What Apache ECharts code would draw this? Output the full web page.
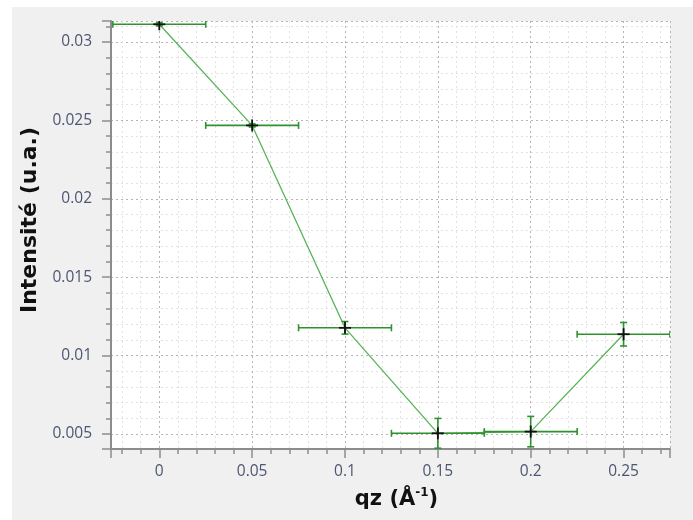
<!DOCTYPE html>
<html><head><meta charset="utf-8">
<script src="https://cdn.jsdelivr.net/npm/echarts@6/dist/echarts.min.js"></script>
<style>
html,body{margin:0;padding:0;background:#fff;}
#bg{position:absolute;left:12px;top:7px;width:681px;height:513px;background:#f0f0f0;}
#chart{position:absolute;left:0;top:0;width:693px;height:520px;}
</style>
</head><body><div id="bg"></div><div id="chart"></div>
<script>
const qz = [0, 0.05, 0.1, 0.15, 0.2, 0.25];
const intensity = [0.03113, 0.02468, 0.01177, 0.00504, 0.00515, 0.01136];
const qzErr = [0.025, 0.025, 0.025, 0.025, 0.025, 0.025];
const intensityErr = [0.0001, 0.0001, 0.0004, 0.00095, 0.00097, 0.00075];

const xMin = -0.026, xMax = 0.275;
const yMin = 0.00404, yMax = 0.03134;

const lineData = qz.map((x, i) => [x, intensity[i]]);
const errData = qz.map((x, i) => [x, intensity[i], qzErr[i], intensityErr[i]]);

const labelColor = '#4d5672';
const axisColor = '#8c8c8c';
const titleFont = 'DejaVu Sans';

function fmt(v) {
  if (Math.abs(v / 0.005 - Math.round(v / 0.005)) > 1e-6) return '';
  return String(parseFloat(v.toFixed(4)));
}
function fmtX(v) {
  if (Math.abs(v / 0.05 - Math.round(v / 0.05)) > 1e-6) return '';
  return String(parseFloat(v.toFixed(3)));
}

const chart = echarts.init(document.getElementById('chart'), null, {renderer: 'canvas'});
chart.setOption({
  backgroundColor: 'transparent',
  animation: false,
  grid: {left: 111, top: 21, right: 23, bottom: 71, show: true, backgroundColor: '#ffffff', borderWidth: 0},
  xAxis: {
    type: 'value', min: xMin, max: xMax,
    name: '{a|qz (Å}{s|-1}{a|)}',
    nameLocation: 'middle', nameGap: 38,
    nameTextStyle: {
      padding: [0, 0, 0, 12],
      rich: {
        a: {fontFamily: titleFont, fontWeight: 'bold', fontSize: 21, color: '#111', lineHeight: 26},
        s: {fontFamily: titleFont, fontWeight: 'bold', fontSize: 12, color: '#111', verticalAlign: 'top', lineHeight: 14}
      }
    },
    axisLine: {show: true, onZero: false, lineStyle: {color: axisColor, width: 2}},
    axisTick: {show: true, inside: false, length: 9, lineStyle: {color: axisColor, width: 1.5}},
    minorTick: {show: true, splitNumber: 5, length: 5, lineStyle: {color: axisColor, width: 1.5}},
    axisLabel: {fontFamily: 'Open Sans', fontSize: 15.5, color: labelColor, margin: 15, showMinLabel: false, showMaxLabel: false, formatter: fmtX},
    splitLine: {show: true, lineStyle: {color: '#b4b4b4', type: [2, 3], width: 1}},
    minorSplitLine: {show: true, lineStyle: {color: '#e2e2e2', type: [2, 3], width: 1}}
  },
  yAxis: {
    type: 'value', min: yMin, max: yMax,
    name: 'Intensité (u.a.)',
    nameLocation: 'middle', nameGap: 50,
    nameTextStyle: {fontFamily: titleFont, fontWeight: 'bold', fontSize: 22, color: '#111', padding: [0, 0, 0, 30]},
    axisLine: {show: true, onZero: false, lineStyle: {color: axisColor, width: 2}},
    axisTick: {show: true, inside: false, length: 9, lineStyle: {color: axisColor, width: 1.5}},
    minorTick: {show: true, splitNumber: 5, length: 5, lineStyle: {color: axisColor, width: 1.5}},
    axisLabel: {fontFamily: 'Open Sans', fontSize: 15.5, color: labelColor, margin: 19, showMinLabel: false, showMaxLabel: false, formatter: fmt},
    splitLine: {show: true, lineStyle: {color: '#b4b4b4', type: [2, 3], width: 1}},
    minorSplitLine: {show: true, lineStyle: {color: '#e2e2e2', type: [2, 3], width: 1}}
  },
  series: [
    {
      type: 'line', data: lineData, symbol: 'none',
      lineStyle: {color: '#58b458', width: 1.3},
      z: 2
    },
    {
      type: 'custom', data: errData, clip: true, z: 3,
      renderItem: function (params, api) {
        const x = api.value(0), y = api.value(1), ex = api.value(2), ey = api.value(3);
        const c = api.coord([x, y]);
        const l = api.coord([x - ex, y]), r = api.coord([x + ex, y]);
        const t = api.coord([x, y + ey]), b = api.coord([x, y - ey]);
        const cap = 3.5, arm = 6;
        const es = {stroke: '#2f922f', lineWidth: 1.6, fill: null};
        const ms = {stroke: '#111', lineWidth: 1.8, fill: null};
        return {
          type: 'group',
          children: [
            {type: 'line', shape: {x1: l[0], y1: l[1], x2: r[0], y2: r[1]}, style: es},
            {type: 'line', shape: {x1: l[0], y1: l[1] - cap, x2: l[0], y2: l[1] + cap}, style: es},
            {type: 'line', shape: {x1: r[0], y1: r[1] - cap, x2: r[0], y2: r[1] + cap}, style: es},
            {type: 'line', shape: {x1: t[0], y1: t[1], x2: b[0], y2: b[1]}, style: es},
            {type: 'line', shape: {x1: t[0] - cap, y1: t[1], x2: t[0] + cap, y2: t[1]}, style: es},
            {type: 'line', shape: {x1: b[0] - cap, y1: b[1], x2: b[0] + cap, y2: b[1]}, style: es},
            {type: 'line', shape: {x1: c[0] - arm, y1: c[1], x2: c[0] + arm, y2: c[1]}, style: ms},
            {type: 'line', shape: {x1: c[0], y1: c[1] - arm, x2: c[0], y2: c[1] + arm}, style: ms}
          ]
        };
      }
    }
  ]
});
</script>
</body></html>
